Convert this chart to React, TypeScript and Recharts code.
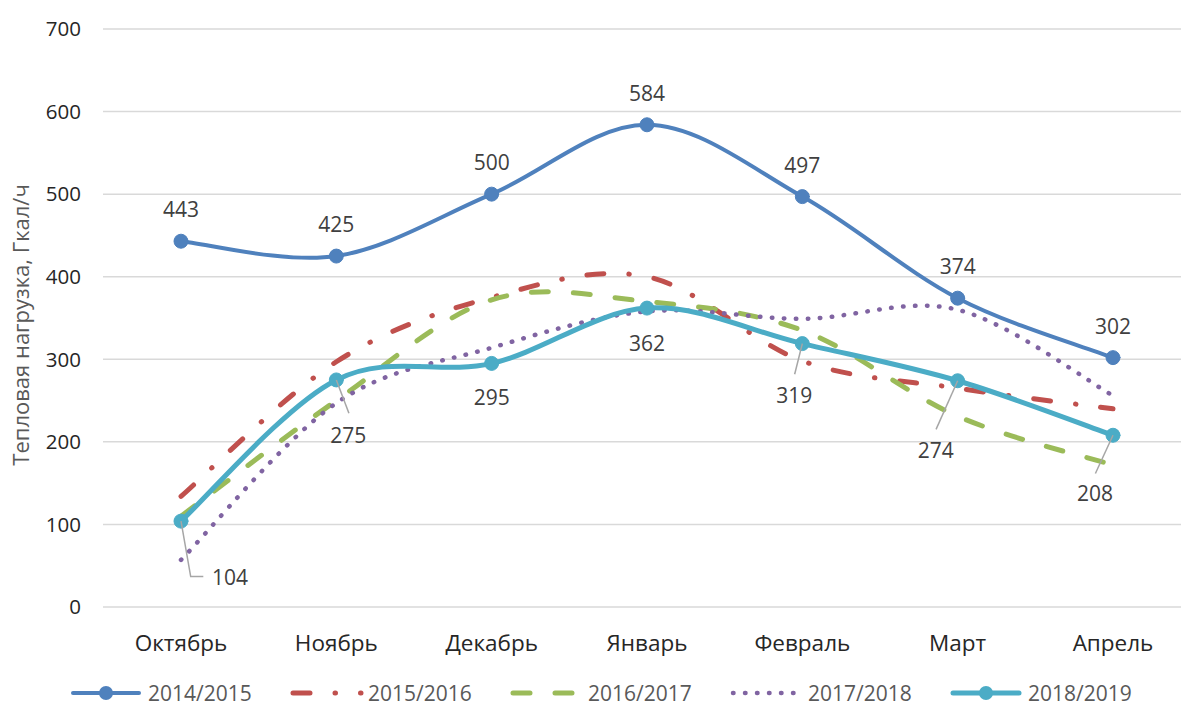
import React from 'react';
import { LineChart, Line, XAxis, YAxis, CartesianGrid, Legend, LabelList } from 'recharts';

const months = ['Октябрь', 'Ноябрь', 'Декабрь', 'Январь', 'Февраль', 'Март', 'Апрель'];
const s2014 = [443, 425, 500, 584, 497, 374, 302];
const s2015 = [134, 297, 375, 400, 298, 265, 240];
const s2016 = [110, 250, 372, 370, 335, 231, 172];
const s2017 = [57, 247, 314, 358, 349, 360, 256];
const s2018 = [104, 275, 295, 362, 319, 274, 208];
const yTicks = [0, 100, 200, 300, 400, 500, 600, 700];

const data = months.map((m, i) => ({
  month: m,
  s2014: s2014[i],
  s2015: s2015[i],
  s2016: s2016[i],
  s2017: s2017[i],
  s2018: s2018[i],
}));

const FONT = '"Open Sans", "Noto Sans", sans-serif';

const series = [
  { key: 's2014', name: '2014/2015', color: '#4F81BD', width: 4, dash: undefined, marker: true },
  { key: 's2015', name: '2015/2016', color: '#C0504D', width: 5, dash: '17 25 0.5 25', marker: false },
  { key: 's2016', name: '2016/2017', color: '#9BBB59', width: 5, dash: '17 25', marker: false },
  { key: 's2017', name: '2017/2018', color: '#8064A2', width: 4.5, dash: '0.5 11.5', marker: false },
  { key: 's2018', name: '2018/2019', color: '#4BACC6', width: 5, dash: undefined, marker: true },
];

// Excel-style smoothing (cardinal spline, control points at 1/6 of neighbour span)
const excelCurve: any = (context: any) => {
  let pts: number[][] = [];
  return {
    areaStart() {},
    areaEnd() {},
    lineStart() {
      pts = [];
    },
    point(x: number, y: number) {
      pts.push([+x, +y]);
    },
    lineEnd() {
      if (!pts.length) return;
      context.moveTo(pts[0][0], pts[0][1]);
      for (let i = 0; i < pts.length - 1; i++) {
        const p0 = pts[i > 0 ? i - 1 : i];
        const p1 = pts[i];
        const p2 = pts[i + 1];
        const p3 = pts[i + 2 < pts.length ? i + 2 : i + 1];
        context.bezierCurveTo(
          p1[0] + (p2[0] - p0[0]) / 6,
          p1[1] + (p2[1] - p0[1]) / 6,
          p2[0] - (p3[0] - p1[0]) / 6,
          p2[1] - (p3[1] - p1[1]) / 6,
          p2[0],
          p2[1]
        );
      }
    },
  };
};

// label placement for 2018/2019 (text offset + leader line, relative to point)
const tealLabelPos = [
  { dx: 49, dy: 56, leader: [[0, 0], [9.7, 55.4], [22.3, 55.4]] },
  { dx: 12, dy: 55, leader: [[0, 0], [12.6, 33.3]] },
  { dx: 0, dy: 34, leader: null },
  { dx: 0, dy: 35, leader: null },
  { dx: -8, dy: 51, leader: [[0, 0], [-7.7, 30.6]] },
  { dx: -22, dy: 69, leader: [[0, 0], [-21.6, 48.6]] },
  { dx: -18, dy: 58, leader: [[0, 0], [-17.6, 38.3]] },
];

const labelStyle = { fontFamily: FONT, fontSize: 21, fill: '#404040' };

const BlueLabel = (props: any) => {
  const { x, y, value } = props;
  return (
    <text x={x} y={y - 32} textAnchor="middle" dominantBaseline="central" style={labelStyle}>
      {value}
    </text>
  );
};

const TealLabel = (props: any) => {
  const { x, y, value } = props;
  const idx = props.index != null ? props.index : s2018.indexOf(value);
  const pos = tealLabelPos[idx] || { dx: 0, dy: 35, leader: null };
  return (
    <g>
      {pos.leader && (
        <polyline
          points={pos.leader.map((p) => `${x + p[0]},${y + p[1]}`).join(' ')}
          fill="none"
          stroke="#A6A6A6"
          strokeWidth={1.5}
        />
      )}
      <text x={x + pos.dx} y={y + pos.dy} textAnchor="middle" dominantBaseline="central" style={labelStyle}>
        {value}
      </text>
    </g>
  );
};

const renderLegend = () => (
  <div style={{ display: 'flex', alignItems: 'center', height: 26, paddingLeft: 70, fontFamily: FONT }}>
    {series.map((s) => (
      <div key={s.key} style={{ display: 'flex', alignItems: 'center', width: 220, flex: 'none' }}>
        <svg width={76} height={20} style={{ flex: 'none' }}>
          <line
            x1={3}
            y1={10}
            x2={s.dash ? 71 : 69}
            y2={10}
            stroke={s.color}
            strokeWidth={s.width}
            strokeDasharray={s.dash}
            strokeLinecap="round"
          />
          {s.marker && <circle cx={36} cy={10} r={7} fill={s.color} />}
        </svg>
        <span style={{ marginLeft: 2, color: '#595959', fontSize: 21, lineHeight: '26px' }}>{s.name}</span>
      </div>
    ))}
  </div>
);

export default function App() {
  return (
    <div style={{ position: 'absolute', left: 0, top: 0, width: 1181, height: 706, background: '#fff', fontFamily: FONT }}>
      <LineChart width={1181} height={706} data={data} margin={{ top: 29, right: 0, bottom: 0, left: 0 }}>
        <CartesianGrid vertical={false} stroke="#D9D9D9" strokeWidth={1.5} />
        <XAxis
          dataKey="month"
          axisLine={false}
          tickLine={false}
          height={73}
          tickMargin={22}
          padding={{ left: 78, right: 68 }}
          tick={{ fill: '#262626', fontSize: 22.5, fontFamily: FONT }}
        />
        <YAxis
          domain={[0, 700]}
          ticks={yTicks}
          width={103}
          axisLine={false}
          tickLine={false}
          tickMargin={16}
          tick={{ fill: '#262626', fontSize: 20.5, fontFamily: FONT }}
          label={() => (
            <text
              x={20}
              y={325}
              transform="rotate(-90, 20, 325)"
              textAnchor="middle"
              dominantBaseline="central"
              style={{ fontFamily: FONT, fontSize: 22, fill: '#595959' }}
            >
              Тепловая нагрузка, Гкал/ч
            </text>
          )}
        />
        <Legend verticalAlign="bottom" content={renderLegend} wrapperStyle={{ left: 0, width: 1181 }} />
        {series.map((s) => (
          <Line
            key={s.key}
            dataKey={s.key}
            name={s.name}
            type={excelCurve}
            stroke={s.color}
            strokeWidth={s.width}
            strokeDasharray={s.dash}
            strokeLinecap="round"
            dot={s.marker ? { r: 7, fill: s.color, stroke: s.color, strokeWidth: 1 } : false}
            activeDot={false}
            isAnimationActive={false}
          >
            {s.key === 's2014' && <LabelList dataKey={s.key} content={BlueLabel} />}
            {s.key === 's2018' && <LabelList dataKey={s.key} content={TealLabel} />}
          </Line>
        ))}
      </LineChart>
    </div>
  );
}
